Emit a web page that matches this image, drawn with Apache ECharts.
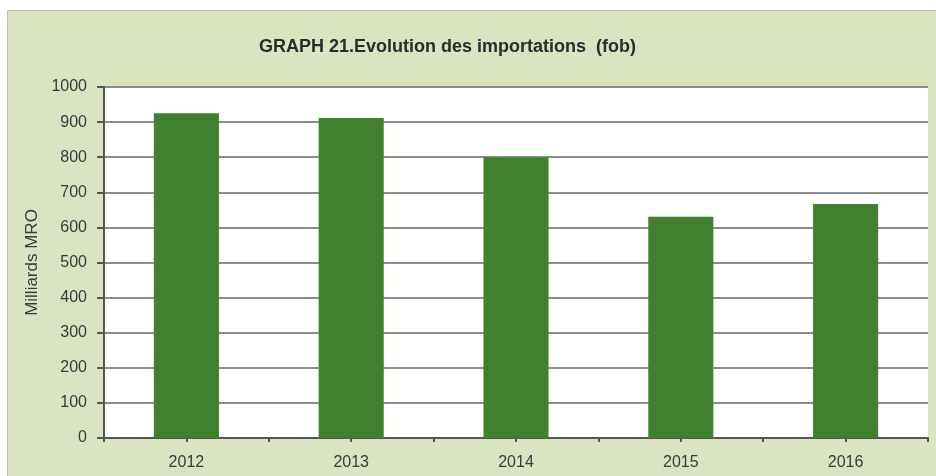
<!DOCTYPE html>
<html>
<head>
<meta charset="utf-8">
<script src="https://cdn.jsdelivr.net/npm/echarts@6/dist/echarts.min.js"></script>
<style>
html, body { margin: 0; padding: 0; background: #ffffff; }
#myChart { width: 936px; height: 476px; }
</style>
</head>
<body>
<div id="myChart"></div>
<script type="text/javascript">
// données du graphique
var years = ['2012', '2013', '2014', '2015', '2016'];
var imports = [925, 912, 800, 630, 667];
var yTicks = [0, 100, 200, 300, 400, 500, 600, 700, 800, 900, 1000];

var font = "'Liberation Sans', Arial, sans-serif";

var option = {
	backgroundColor: '#ffffff',
	animation: false,
	graphic: [
		{
			type: 'rect',
			left: 7,
			top: 10,
			z: -10,
			shape: { width: 929, height: 466 },
			style: { fill: '#dae4c1', stroke: '#b9c3a2', lineWidth: 1 }
		},
		{
			type: 'rect',
			left: 104,
			top: 87,
			z: -5,
			shape: { width: 824, height: 351 },
			style: { fill: '#ffffff' }
		}
	],
	title: {
		text: 'GRAPH 21.Evolution des importations  (fob)',
		left: 254,
		top: 33,
		textStyle: {
			fontFamily: font,
			fontWeight: 'bold',
			fontSize: 18,
			color: '#2b2b2b'
		}
	},
	grid: {
		left: 104,
		right: 8,
		top: 87,
		bottom: 38,
		containLabel: false
	},
	xAxis: [
		{
			type: 'category',
			data: years,
			axisLine: { lineStyle: { color: '#555555', width: 2 } },
			axisTick: { show: true, length: 4, lineStyle: { color: '#555555', width: 2 } },
			axisLabel: {
				fontFamily: font,
				fontSize: 16,
				color: '#3a3a3a',
				margin: 17
			}
		},
		{
			// petits traits au centre de chaque catégorie
			type: 'category',
			data: years,
			position: 'bottom',
			axisLine: { show: false },
			axisTick: { show: true, alignWithLabel: true, length: 4, lineStyle: { color: '#555555', width: 2 } },
			axisLabel: { show: false }
		}
	],
	yAxis: {
		type: 'value',
		min: yTicks[0],
		max: yTicks[yTicks.length - 1],
		interval: 100,
		name: 'Milliards MRO',
		nameLocation: 'middle',
		nameGap: 57,
		nameTextStyle: {
			fontFamily: font,
			fontSize: 17,
			color: '#3a3a3a'
		},
		axisLine: { show: true, lineStyle: { color: '#555555', width: 2 } },
		axisTick: { show: true, length: 7, lineStyle: { color: '#555555', width: 2 } },
		axisLabel: {
			fontFamily: font,
			fontSize: 16,
			color: '#3a3a3a',
			margin: 17,
			formatter: function (v) { return String(v); }
		},
		splitLine: { lineStyle: { color: '#8c8c8c', width: 2 } }
	},
	series: [
		{
			name: 'Importations',
			type: 'bar',
			xAxisIndex: 0,
			data: imports,
			barWidth: '39.5%',
			itemStyle: { color: '#41802f' }
		}
	],
	tooltip: { show: true }
};
echarts.init(document.getElementById('myChart')).setOption(option);
</script>
</body>
</html>
